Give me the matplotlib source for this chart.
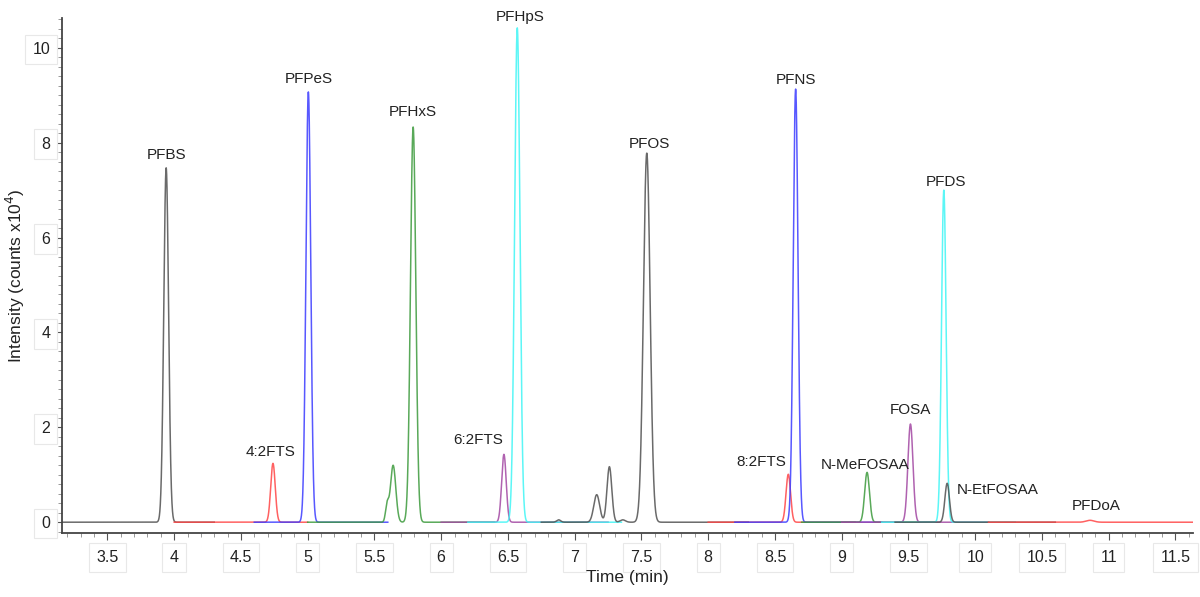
import numpy as np
import matplotlib.pyplot as plt
from matplotlib.ticker import MultipleLocator

plt.rcParams['font.family'] = ['Liberation Sans', 'DejaVu Sans']

# compounds (one trace each)
names = ["PFBS", "4:2FTS", "PFPeS", "PFHxS", "6:2FTS", "PFHpS", "PFOS",
         "8:2FTS", "PFNS", "N-MeFOSAA", "FOSA", "PFDS", "N-EtFOSAA", "PFDoA"]
rts = [3.94, 4.74, 5.005, 5.79, 6.47, 6.57, 7.54,
       8.60, 8.655, 9.19, 9.515, 9.765, 9.79, 10.86]
heights = [7.47, 1.24, 9.07, 8.33, 1.43, 10.42, 7.78,
           1.01, 9.13, 1.05, 2.07, 7.00, 0.82, 0.04]
widths = [0.018, 0.017, 0.018, 0.02, 0.017, 0.02, 0.025,
          0.017, 0.018, 0.018, 0.019, 0.017, 0.017, 0.03]
colors = ["#505050", "#ff4545", "#3b3bff", "#3c9a3c", "#a247a2", "#3ff5f5", "#505050",
          "#ff4545", "#3b3bff", "#3c9a3c", "#a247a2", "#3ff5f5", "#505050", "#ff4545"]
win_start = [3.16, 4.00, 4.60, 5.00, 6.00, 6.20, 6.75,
             8.00, 8.20, 8.70, 9.00, 9.30, 9.40, 10.10]
win_end = [4.30, 5.00, 5.60, 6.40, 7.25, 7.35, 8.30,
           9.10, 9.30, 9.70, 10.10, 10.30, 10.60, 11.63]

# extra small peaks inside some traces (index of owning trace)
extra_owner = [3, 3, 6, 6, 6, 6]
extra_rt = [5.595, 5.64, 6.88, 7.165, 7.26, 7.36]
extra_h = [0.35, 1.2, 0.05, 0.58, 1.17, 0.05]
extra_w = [0.012, 0.02, 0.015, 0.022, 0.018, 0.02]

# label offsets (dx in min, dy in y units) relative to the peak apex
label_dx = [0, -0.015, 0, 0, -0.19, 0.02, 0.02, -0.2, 0, -0.015, 0, 0.015, 0.075, 0.05]
label_dy = [0.27, 0.25, 0.27, 0.32, 0.3, 0.23, 0.19, 0.25, 0.19, 0.15, 0.3, 0.17, -0.15, 0.3]
label_ha = ["center"] * 12 + ["left", "center"]

fig = plt.figure(figsize=(12, 5.97), dpi=100)
ax = fig.add_axes([0.0517, 0.107, 0.9423, 0.863])

for i in range(len(names)):
    t = np.linspace(win_start[i], win_end[i], 3000)
    y = heights[i] * np.exp(-0.5 * ((t - rts[i]) / widths[i]) ** 2)
    for j, owner in enumerate(extra_owner):
        if owner == i:
            y += extra_h[j] * np.exp(-0.5 * ((t - extra_rt[j]) / extra_w[j]) ** 2)
    ax.plot(t, y, color=colors[i], lw=1.1, alpha=0.85)
    ax.text(rts[i] + label_dx[i], heights[i] + label_dy[i], names[i],
            ha=label_ha[i], va="center", fontsize=11, color="#222222")

ax.set_xlim(3.16, 11.63)
ax.set_ylim(-0.23, 10.63)
ax.xaxis.set_minor_locator(MultipleLocator(0.1))
ax.yaxis.set_major_locator(MultipleLocator(2))
ax.yaxis.set_minor_locator(MultipleLocator(0.2))
ax.set_xticks(np.arange(3.5, 11.6, 0.5))
ax.set_xticklabels([f"{v:g}" for v in np.arange(3.5, 11.6, 0.5)])

for s in ["top", "right"]:
    ax.spines[s].set_visible(False)
for s in ["left", "bottom"]:
    ax.spines[s].set_color("#444444")
    ax.spines[s].set_linewidth(1.3)

ax.tick_params(axis="both", which="major", length=5, color="#555555", labelsize=11.5,
               labelcolor="#222222")
ax.tick_params(axis="both", which="minor", length=3, color="#888888")
ax.tick_params(axis="x", which="major", pad=7)

for lbl in ax.get_xticklabels() + ax.get_yticklabels():
    lbl.set_bbox(dict(facecolor="white", edgecolor="#e8e8e8", lw=0.8,
                      boxstyle="square,pad=0.45"))

ax.set_xlabel("Time (min)", fontsize=12.5, color="#222222", labelpad=4)
ax.set_ylabel("Intensity (counts x10$^4$)", fontsize=12.5, color="#222222")
ax.yaxis.set_label_coords(-0.031, 0.5)

fig.savefig("out.png", dpi=100)
